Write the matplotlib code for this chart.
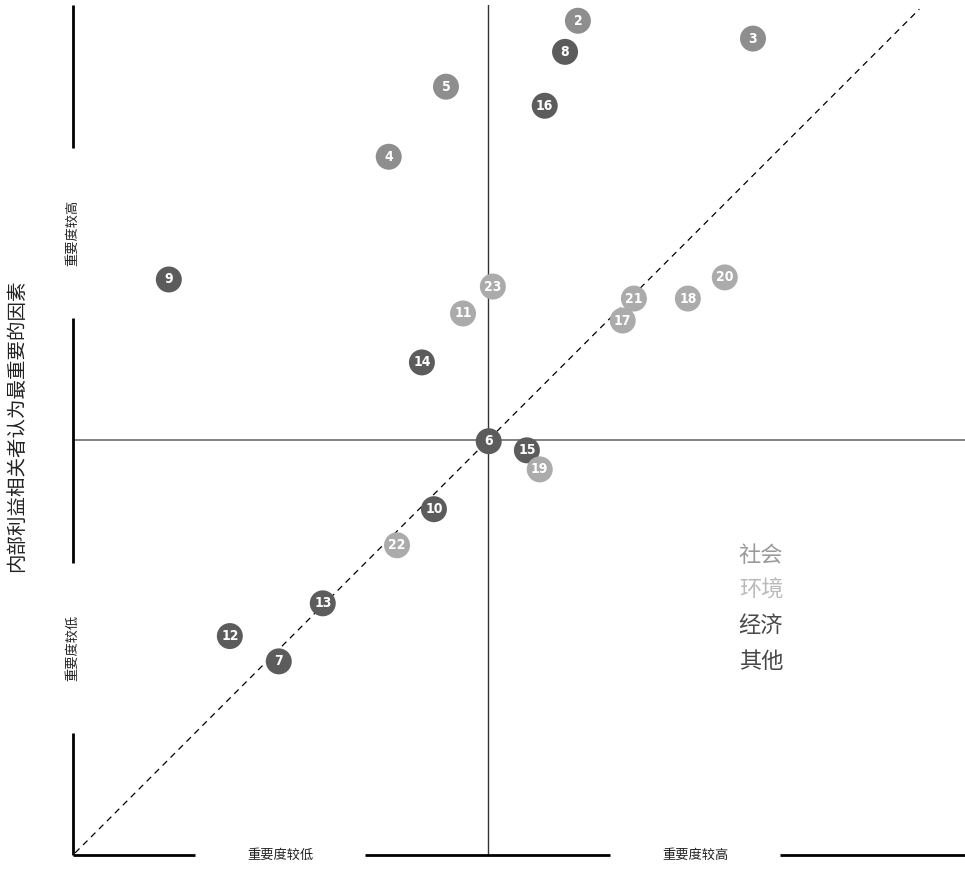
import matplotlib.pyplot as plt

plt.rcParams['font.family'] = ['Noto Sans CJK SC', 'DejaVu Sans']

# 各议题编号、坐标（外部 / 内部重要度）以及类别
ids = [2, 3, 8, 5, 16, 4, 9, 23, 11, 21, 17, 18, 20, 14, 6, 15, 19, 10, 22, 13, 12, 7]
x_vals = [2.17, 6.39, 1.86, -1.01, 1.37, -2.39, -7.69, 0.12, -0.60, 3.52, 3.25, 4.82,
          5.71, -1.59, 0.02, 0.94, 1.25, -1.30, -2.19, -3.98, -6.22, -5.04]
y_vals = [10.12, 9.69, 9.37, 8.53, 8.07, 6.84, 3.88, 3.71, 3.06, 3.42, 2.89, 3.42,
          3.93, 1.88, -0.02, -0.24, -0.70, -1.66, -2.53, -3.93, -4.72, -5.33]
cats = ['社会', '社会', '经济', '社会', '经济', '社会', '经济', '环境', '环境', '环境', '环境', '环境',
        '环境', '经济', '经济', '经济', '环境', '经济', '环境', '经济', '经济', '经济']

legend_names = ['社会', '环境', '经济', '其他']
point_colors = {'社会': '#8e8e8e', '环境': '#ababab', '经济': '#5c5c5c', '其他': '#474747'}
legend_colors = {'社会': '#9a9a9a', '环境': '#bababa', '经济': '#4a4a4a', '其他': '#474747'}

y_title = '内部利益相关者认为最重要的因素'
low_label = '重要度较低'
high_label = '重要度较高'

fig = plt.figure(figsize=(9.65, 8.69), dpi=100)
ax = fig.add_axes([73 / 965, 14 / 869, 892 / 965, 850 / 869])
ax.set_xlim(-10, 11.5)
ax.set_ylim(-10, 10.5)
ax.axis('off')

# 中心十字线
ax.plot([0, 0], [-10, 10.5], color='#333333', lw=1.0, zorder=1)
ax.plot([-10, 11.5], [0, 0], color='#777777', lw=1.3, zorder=1)

# 对角虚线
ax.plot([-9.95, 10.4], [-9.95, 10.4], color='black', lw=0.9, ls=(0, (5, 4)), zorder=1)

# 左侧和底部的粗轴线，留出文字空隙
gap = 2.05
for a, b in [(-10, -5 - gap), (-5 + gap, 5 - gap), (5 + gap, 10.5)]:
    ax.plot([-10, -10], [a, b], color='black', lw=2, solid_capstyle='butt', clip_on=False)
for a, b in [(-10, -5 - gap), (-5 + gap, 5 - gap), (5 + gap, 11.5)]:
    ax.plot([a, b], [-10, -10], color='black', lw=2, solid_capstyle='butt', clip_on=False)

ax.text(-10, 5, high_label, rotation=90, ha='center', va='center', fontsize=9.5, color='#222222')
ax.text(-10, -5, low_label, rotation=90, ha='center', va='center', fontsize=9.5, color='#222222')
ax.text(-5, -10, low_label, ha='center', va='center', fontsize=9.5, color='#222222')
ax.text(5, -10, high_label, ha='center', va='center', fontsize=9.5, color='#222222')

fig.text(17 / 965, 1 - 426 / 869, y_title, rotation=90, ha='center', va='center',
         fontsize=14, color='#222222')

# 圆点与编号
for i, x, y, c in zip(ids, x_vals, y_vals, cats):
    ax.scatter(x, y, s=350, color=point_colors[c], edgecolors='none', zorder=3)
    ax.text(x, y, str(i), ha='center', va='center', color='white', fontsize=10,
            fontweight='bold', family='DejaVu Sans', fontstretch='condensed', zorder=4)

# 图例文字
for k, name in enumerate(legend_names):
    fig.text(761 / 965, 1 - (555 + k * 35.5) / 869, name, ha='center', va='center',
             fontsize=16, color=legend_colors[name])

fig.savefig('out.png', dpi=100)
